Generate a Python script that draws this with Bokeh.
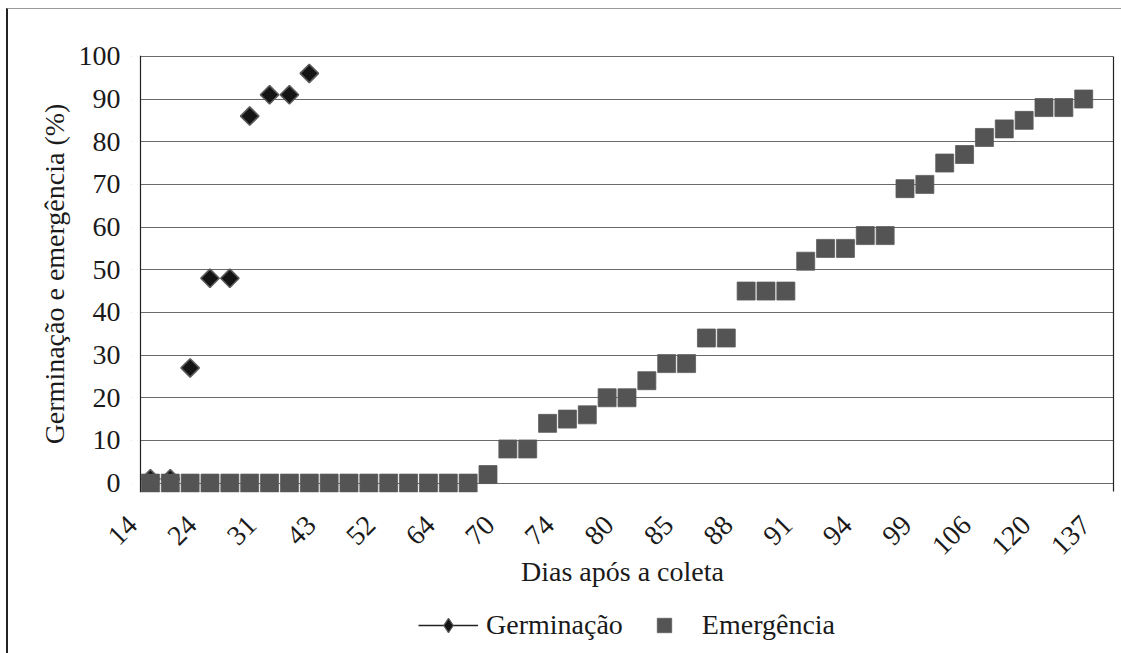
import math
import numpy as np
from bokeh.plotting import figure
from bokeh.layouts import column
from bokeh.models import (Range1d, FixedTicker, Legend, LegendItem, LinearAxis,
                          Span, BoxAnnotation)
from bokeh.embed import file_html
from bokeh.resources import INLINE

# ---------------- data ----------------
n_categories = 49
tick_labels = ["14", "24", "31", "43", "52", "64", "70", "74", "80", "85",
               "88", "91", "94", "99", "106", "120", "137"]
tick_step = 3
germinacao = [1, 1, 27, 48, 48, 86, 91, 91, 96]
emergencia = [0, 0, 0, 0, 0, 0, 0, 0, 0, 0, 0, 0, 0, 0, 0, 0, 0,
              2, 8, 8, 14, 15, 16, 20, 20, 24, 28, 28, 34, 34, 45, 45, 45,
              52, 55, 55, 58, 58, 69, 70, 75, 77, 81, 83, 85, 88, 88, 90]
y_ticks = [0, 10, 20, 30, 40, 50, 60, 70, 80, 90, 100]
x_title = "Dias após a coleta"
y_title = "Germinação e emergência (%)"

FONT = "Liberation Serif"
TXT = "#1a1a1a"
AX = "#222222"

# category centres (Excel-style "between tick marks")
x_germ = np.arange(len(germinacao)) + 0.5
x_emer = np.arange(len(emergencia)) + 0.5
# rotated labels: their end sits a little left of the category centre
label_shift = -0.9
x_lab = [float(v) for v in np.arange(0, n_categories, tick_step) + 0.5 + label_shift]

# ---------------- main figure ----------------
W = 1113
H_MAIN = 591
p = figure(width=W, height=H_MAIN, x_range=Range1d(-0.453, n_categories),
           y_range=Range1d(-2.2, 100.2), output_backend="svg",
           toolbar_location=None, title=None,
           min_border_left=123, min_border_right=8,
           min_border_top=46, min_border_bottom=108)
p.outline_line_color = None
p.background_fill_color = "white"
p.border_fill_color = "white"

# y axis (its line is drawn at x = 0 below)
p.yaxis.ticker = FixedTicker(ticks=y_ticks)
p.yaxis.axis_line_color = None
p.yaxis.major_tick_out = 0
p.yaxis.major_tick_in = 0
p.yaxis.minor_tick_line_color = None
p.yaxis.major_label_standoff = 11
p.yaxis.major_label_text_font = FONT
p.yaxis.major_label_text_font_size = "28px"
p.yaxis.major_label_text_color = TXT
p.yaxis.axis_label = y_title
p.yaxis.axis_label_text_font = FONT
p.yaxis.axis_label_text_font_size = "28px"
p.yaxis.axis_label_text_font_style = "normal"
p.yaxis.axis_label_text_color = TXT
p.yaxis.axis_label_standoff = 6

# right border of the plot area
right_axis = LinearAxis(ticker=FixedTicker(ticks=[]), bounds=(-2, 100),
                        axis_line_color=AX, axis_line_width=1.2,
                        major_tick_out=0, major_tick_in=0, major_label_standoff=0,
                        minor_tick_line_color=None)
p.add_layout(right_axis, "right")

# x axis: rotated category labels every third category
xa = p.xaxis[0]
xa.ticker = FixedTicker(ticks=x_lab)
xa.major_label_overrides = {t: lab for t, lab in zip(x_lab, tick_labels)}
xa.major_label_orientation = math.pi / 4
xa.axis_line_color = None
xa.major_tick_line_color = None
xa.minor_tick_line_color = None
xa.major_tick_out = 0
xa.major_tick_in = 0
xa.major_label_standoff = 28
xa.major_label_text_font = FONT
xa.major_label_text_font_size = "28px"
xa.major_label_text_color = TXT
xa.axis_label = x_title
xa.axis_label_text_font = FONT
xa.axis_label_text_font_size = "28px"
xa.axis_label_text_font_style = "normal"
xa.axis_label_text_color = TXT
xa.axis_label_standoff = -10

p.xgrid.visible = False
p.ygrid.ticker = FixedTicker(ticks=y_ticks)
p.ygrid.grid_line_color = "#6a6a6a"
p.ygrid.grid_line_width = 1.2

# keep the grid from showing left of the value axis
p.add_layout(BoxAnnotation(right=0, fill_color="white", fill_alpha=1.0,
                           line_color=None, level="underlay"))
p.add_layout(Span(location=0, dimension="height", line_color=AX, line_width=1.2))

# series
germ = p.scatter(x_germ, germinacao, marker="square", size=13, angle=math.pi / 4,
                 fill_color="#141414", line_color="#5a5a5a", line_width=1.6)
emer = p.scatter(x_emer, emergencia, marker="square", size=18,
                 fill_color="#545454", line_color="#5c5c5c", line_width=0.8)

# ---------------- legend strip ----------------
H_LEG = 53
pl = figure(width=W, height=H_LEG, x_range=Range1d(0, 1), y_range=Range1d(0, 1),
            x_axis_location=None, y_axis_location=None,
            output_backend="svg", toolbar_location=None, title=None,
            min_border_left=0, min_border_right=0, min_border_top=0,
            min_border_bottom=0)
pl.grid.visible = False
pl.outline_line_color = None
pl.background_fill_color = "white"
pl.border_fill_color = "white"

k_line = pl.line(x_germ, germinacao, line_color=AX, line_width=1.5)
k_germ = pl.scatter(x_germ, germinacao, marker="diamond", size=13,
                    fill_color="#141414", line_color="#5a5a5a", line_width=1.2)
k_emer = pl.scatter(x_emer, emergencia, marker="square", size=18,
                    fill_color="#545454", line_color="#5c5c5c", line_width=0.8)
for r in (k_line, k_germ, k_emer):
    r.visible = False

legend = Legend(items=[LegendItem(label="Germinação", renderers=[k_line, k_germ]),
                       LegendItem(label="Emergência", renderers=[k_emer])],
                orientation="horizontal", location=(287, 10),
                glyph_width=60, glyph_height=36, label_standoff=8, spacing=11,
                padding=0, margin=0, border_line_color=None,
                background_fill_alpha=0,
                label_text_font=FONT, label_text_font_size="28px",
                label_text_color=TXT)
pl.add_layout(legend, "center")

layout = column(p, pl, spacing=0, margin=(8, 0, 0, 6),
                styles={"border-left": "2px solid #222222",
                        "border-top": "1px solid #9a9a9a"})

open("out.html", "w").write(file_html(layout, INLINE))
